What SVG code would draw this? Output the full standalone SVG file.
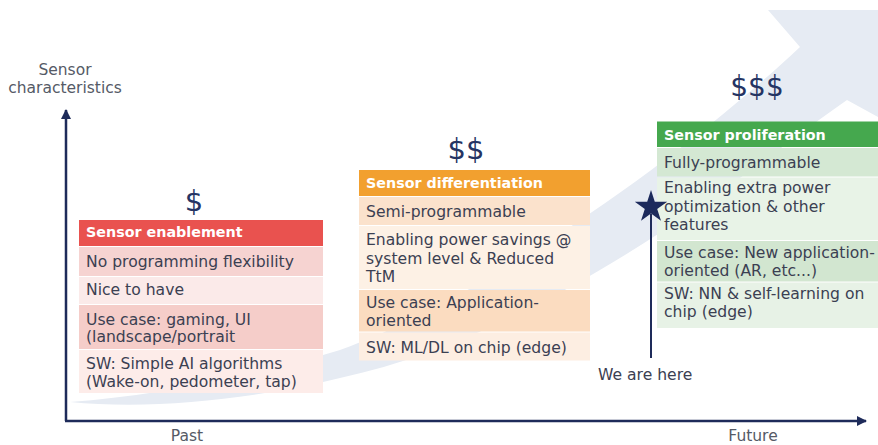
<svg xmlns="http://www.w3.org/2000/svg" width="878" height="445" viewBox="0 0 878 445">
<defs>
<style>
.t{font-family:"DejaVu Sans",sans-serif;font-size:15.6px;fill:#3b4052}
.h{font-family:"DejaVu Sans",sans-serif;font-size:14.3px;font-weight:bold;fill:#ffffff}
.d{font-family:"DejaVu Sans",sans-serif;fill:#253463}
.ax{font-family:"DejaVu Sans",sans-serif;font-size:15.5px;fill:#555a66}
.axis{stroke:#1e2b5a;stroke-width:2.5;fill:none}
</style>
<marker id="ah" viewBox="0 0 10 10" refX="9" refY="5" markerWidth="4" markerHeight="4" orient="auto" markerUnits="strokeWidth">
<path d="M0,0 L10,5 L0,10 Z" fill="#1e2b5a"/>
</marker>
</defs>
<rect width="878" height="445" fill="#ffffff"/>
<path id="swoosh" d="M768,10 L878,10 L878,117 L847,100 C760,160 560,330 340,378 C250,400 150,410 70,402 C150,396 250,378 340,350 C480,300 680,160 800,47 Z" fill="#e6ebf3"/>

<g id="connectors">
<path class="axis" d="M66,421 L66,110" marker-end="url(#ah)"/>
<path class="axis" d="M65,421 L866,421" marker-end="url(#ah)"/>
<line x1="651" y1="214" x2="651" y2="358" stroke="#1e2b5a" stroke-width="2"/>
</g>

<g id="axis-labels">
<text class="ax" x="65" y="75" text-anchor="middle">Sensor</text>
<text class="ax" x="65" y="93" text-anchor="middle">characteristics</text>
<text class="ax" x="187" y="441" text-anchor="middle">Past</text>
<text class="ax" x="753" y="441" text-anchor="middle">Future</text>
</g>

<g id="node-enablement">
<text class="d" x="194" y="211" font-size="29" text-anchor="middle">$</text>
<rect x="79" y="220" width="244" height="26" fill="#e9524f"/>
<rect x="79" y="247" width="244" height="29" fill="#f6d3d1"/>
<rect x="79" y="277" width="244" height="27" fill="#fbeae9"/>
<rect x="79" y="305" width="244" height="44" fill="#f5cdc9"/>
<rect x="79" y="350" width="244" height="43" fill="#fdece9"/>
<text class="h" x="86" y="237">Sensor enablement</text>
<text class="t" x="86" y="267">No programming flexibility</text>
<text class="t" x="86" y="295">Nice to have</text>
<text class="t" x="86" y="325">Use case: gaming, UI</text>
<text class="t" x="86" y="342">(landscape/portrait</text>
<text class="t" x="86" y="369">SW: Simple AI algorithms</text>
<text class="t" x="86" y="387">(Wake-on, pedometer, tap)</text>
</g>

<g id="node-differentiation">
<text class="d" x="466" y="158.5" font-size="29" text-anchor="middle">$$</text>
<rect x="359" y="170" width="231" height="26" fill="#f2a02f"/>
<rect x="359" y="197" width="231" height="28" fill="#fbe2cc"/>
<rect x="359" y="226" width="231" height="63" fill="#fdf1e5"/>
<rect x="359" y="290" width="231" height="41.5" fill="#fbdcc0"/>
<rect x="359" y="332.5" width="231" height="28" fill="#fdeee2"/>
<text class="h" x="366" y="188">Sensor differentiation</text>
<text class="t" x="366" y="217">Semi-programmable</text>
<text class="t" x="366" y="245">Enabling power savings @</text>
<text class="t" x="366" y="263.5">system level &amp; Reduced</text>
<text class="t" x="366" y="282">TtM</text>
<text class="t" x="366" y="308">Use case: Application-</text>
<text class="t" x="366" y="325.5">oriented</text>
<text class="t" x="366" y="353">SW: ML/DL on chip (edge)</text>
</g>

<g id="node-proliferation">
<text class="d" x="757" y="96" font-size="28" text-anchor="middle">$$$</text>
<rect x="657" y="121.5" width="221" height="25.5" fill="#45a84e"/>
<rect x="657" y="148" width="221" height="28.5" fill="#d4e8d3"/>
<rect x="657" y="177.5" width="221" height="62.5" fill="#e8f3e7"/>
<rect x="657" y="241" width="221" height="40.5" fill="#d2e6d0"/>
<rect x="657" y="282.5" width="221" height="45.5" fill="#e7f2e6"/>
<text class="h" x="664" y="140">Sensor proliferation</text>
<text class="t" x="664" y="168">Fully-programmable</text>
<text class="t" x="664" y="193">Enabling extra power</text>
<text class="t" x="664" y="211.5">optimization &amp; other</text>
<text class="t" x="664" y="230">features</text>
<text class="t" x="664" y="258">Use case: New application-</text>
<text class="t" x="664" y="275.5">oriented (AR, etc...)</text>
<text class="t" x="664" y="298.5">SW: NN &amp; self-learning on</text>
<text class="t" x="664" y="317">chip (edge)</text>
</g>

<g id="node-we-are-here">
<polygon points="651,190 654.8,201.7 667.2,201.7 657.2,209 661,220.8 651,213.5 641,220.8 644.8,209 634.8,201.7 647.2,201.7" fill="#1c2a5c"/>
<text class="t" x="598" y="380" font-size="17">We are here</text>
</g>
</svg>
